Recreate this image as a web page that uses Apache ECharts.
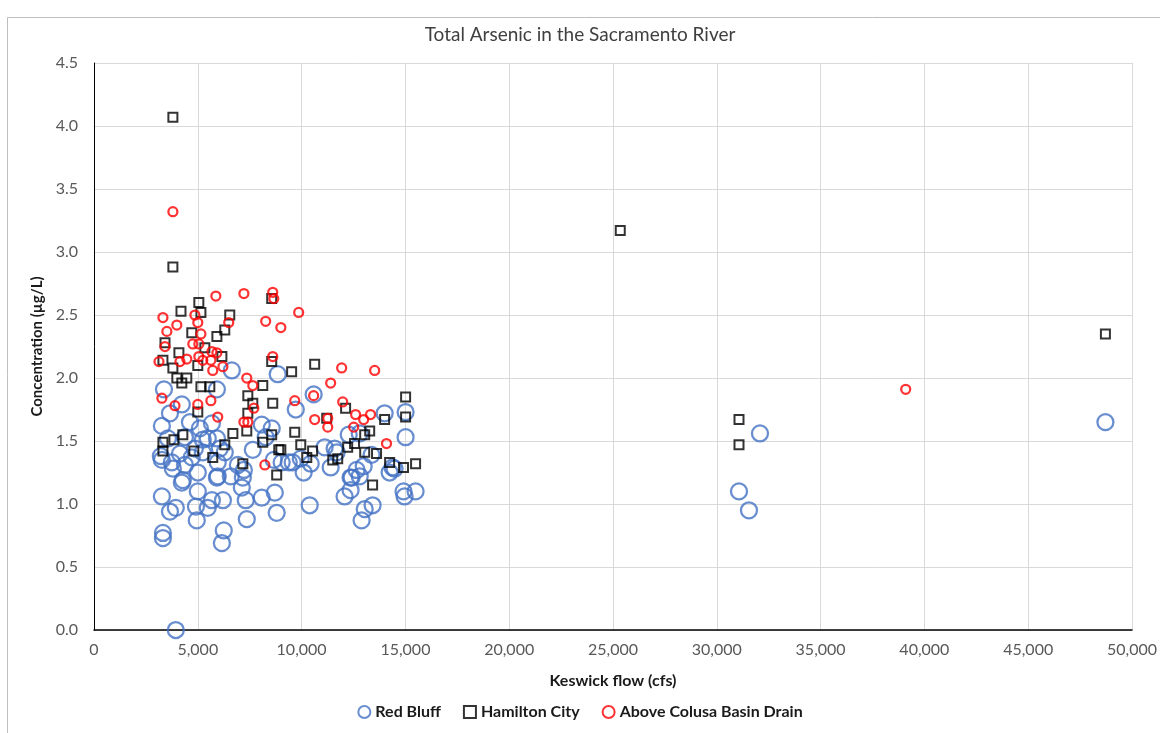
<!DOCTYPE html>
<html>
<head>
<meta charset="utf-8">
<script src="https://cdn.jsdelivr.net/npm/echarts@6/dist/echarts.min.js"></script>
<style>
html,body{margin:0;padding:0;background:#fff;}
#chart{width:1160px;height:733px;}
</style>
</head>
<body>
<div id="chart"></div>
<script>
const xTicks = { min: 0, max: 50000, interval: 5000 };
const yTicks = { min: 0, max: 4.5, interval: 0.5 };
const seriesNames = ["Red Bluff", "Hamilton City", "Above Colusa Basin Drain"];

const redBluffX = [3940,3320,3320,3660,3940,3270,3270,3220,3800,3750,
3270,3370,3660,4230,4140,4230,4280,4380,4620,3560,
4380,4710,4860,4910,4950,5000,5000,5100,5240,5240,
5480,5480,5680,5680,5920,5920,5960,5920,5960,6060,
6250,6160,6210,6300,6590,6640,6930,7170,7120,7310,
7360,7650,7220,8080,8080,8560,8270,8710,8800,8850,
8660,9040,9380,9720,9960,10100,10440,10580,10390,11110,
11400,11690,12070,12360,12360,12270,12650,12800,12990,13040,
12890,13420,13370,14000,14240,14380,14910,14960,15010,15010,
15490,12800,11590,9570,12410,14480,31070,31550,32080,48720];
const redBluffY = [0.00,0.73,0.77,0.94,0.97,1.06,1.35,1.38,1.28,1.33,
1.62,1.91,1.72,1.79,1.40,1.17,1.19,1.31,1.65,1.52,
1.53,1.37,1.44,0.98,0.87,1.10,1.25,1.60,1.51,1.41,
1.52,0.97,1.03,1.64,1.52,1.21,1.22,1.91,1.33,1.44,
0.79,0.69,1.03,1.41,1.22,2.06,1.31,1.21,1.13,1.03,
0.88,1.43,1.27,1.05,1.63,1.60,1.53,1.09,0.93,2.03,
1.35,1.33,1.33,1.75,1.36,1.25,1.32,1.87,0.99,1.45,
1.29,1.41,1.06,1.11,1.21,1.55,1.27,1.22,1.30,0.96,
0.87,0.99,1.39,1.72,1.25,1.29,1.10,1.06,1.73,1.53,
1.10,1.56,1.44,1.33,1.21,1.28,1.10,0.95,1.56,1.65];

const hamiltonX = [3800,3800,25350,31070,31070,48720,5050,4190,5150,6540,
6300,4710,5920,3420,5340,4090,3320,6160,5000,3800,
8560,8560,3990,4470,4230,5150,5580,8130,7410,7650,
8610,5000,7410,7360,6690,4280,3850,3320,3320,4810,
6300,8560,8130,8900,5720,7170,8800,10630,9520,15010,
12120,11210,15010,14000,9670,9960,9000,10530,10250,13040,
13280,12550,12220,13040,13610,11500,11740,14240,14910,15490,
13420];
const hamiltonY = [4.07,2.88,3.17,1.67,1.47,2.35,2.60,2.53,2.52,2.50,
2.38,2.36,2.33,2.28,2.24,2.20,2.14,2.17,2.10,2.08,
2.63,2.13,2.00,2.00,1.96,1.93,1.93,1.94,1.86,1.80,
1.80,1.73,1.72,1.58,1.56,1.55,1.51,1.49,1.42,1.42,
1.47,1.55,1.49,1.43,1.37,1.32,1.23,2.11,2.05,1.85,
1.76,1.68,1.69,1.67,1.57,1.47,1.43,1.42,1.37,1.55,
1.58,1.48,1.45,1.41,1.40,1.35,1.36,1.33,1.29,1.32,
1.15];

const colusaX = [3800,39100,5870,7220,8610,8660,3320,4860,3990,5000,
6490,8270,9000,9860,3510,5150,4760,5050,3420,5050,
5680,5920,4470,4140,3130,5240,5630,5720,6210,8610,
7360,7650,3270,3900,5000,5630,5960,7700,7220,7410,
8230,11930,13520,11400,9670,10580,11980,12600,13320,12990,
10630,11260,11260,12510,14090];
const colusaY = [3.32,1.91,2.65,2.67,2.68,2.63,2.48,2.50,2.42,2.44,
2.44,2.45,2.40,2.52,2.37,2.35,2.27,2.27,2.25,2.17,
2.21,2.20,2.15,2.13,2.13,2.14,2.14,2.06,2.09,2.17,
2.00,1.94,1.84,1.78,1.79,1.82,1.69,1.76,1.65,1.65,
1.31,2.08,2.06,1.96,1.82,1.86,1.81,1.71,1.71,1.67,
1.67,1.68,1.61,1.61,1.48];

function zip(xs, ys){ return xs.map((x,i)=>[x, ys[i]]); }

const FONT = 'Lato, "Liberation Sans", sans-serif';
const chart = echarts.init(document.getElementById('chart'), null, {renderer:'canvas'});
chart.setOption({
  animation: false,
  backgroundColor: '#fff',
  graphic: [{
    type: 'rect', silent: true, z: -10,
    shape: {x: 7.5, y: 17.5, width: 1200, height: 800},
    style: {fill: 'none', stroke: '#bfbfbf', lineWidth: 1}
  }],
  title: {
    text: 'Total Arsenic in the Sacramento River',
    left: 'center', top: 20,
    textStyle: {fontFamily: FONT, fontSize: 19, fontWeight: 'normal', color: '#404040'}
  },
  grid: {left: 94, right: 27, top: 63, bottom: 103, containLabel: false},
  legend: {
    bottom: 8, left: 'center',
    itemWidth: 12, itemHeight: 12, itemGap: 22,
    textStyle: {fontFamily: FONT, fontSize: 16, fontWeight: 'bold', color: '#1a1a1a'},
    data: seriesNames
  },
  xAxis: {
    type: 'value', min: xTicks.min, max: xTicks.max, interval: xTicks.interval,
    name: 'Keswick flow (cfs)', nameLocation: 'middle', nameGap: 43,
    nameTextStyle: {fontFamily: FONT, fontSize: 16, fontWeight: 'bold', color: '#1a1a1a'},
    axisLine: {show: true, lineStyle: {color: '#000', width: 1.5}},
    axisTick: {show: false},
    axisLabel: {fontFamily: FONT, fontSize: 16, color: '#595959', margin: 12,
      formatter: v => v.toLocaleString('en-US')},
    splitLine: {show: true, lineStyle: {color: '#d9d9d9', width: 1}}
  },
  yAxis: {
    type: 'value', min: yTicks.min, max: yTicks.max, interval: yTicks.interval,
    name: 'Concentration (µg/L)', nameLocation: 'middle', nameGap: 38, nameRotate: 90,
    nameTextStyle: {fontFamily: FONT, fontSize: 15, fontWeight: 'bold', color: '#1a1a1a'},
    axisLine: {show: true, lineStyle: {color: '#000', width: 1}},
    axisTick: {show: false},
    axisLabel: {fontFamily: FONT, fontSize: 16, color: '#595959', margin: 16,
      formatter: v => v.toFixed(1)},
    splitLine: {show: true, lineStyle: {color: '#d9d9d9', width: 1}}
  },
  series: [
    {
      name: seriesNames[0], type: 'scatter', symbol: 'circle', symbolSize: 16,
      itemStyle: {color: 'rgba(255,255,255,0)', borderColor: '#4472c4', borderWidth: 2.25},
      data: zip(redBluffX, redBluffY), z: 2
    },
    {
      name: seriesNames[1], type: 'scatter', symbol: 'rect', symbolSize: 9,
      itemStyle: {color: 'rgba(255,255,255,0)', borderColor: '#000', borderWidth: 2},
      data: zip(hamiltonX, hamiltonY), z: 3
    },
    {
      name: seriesNames[2], type: 'scatter', symbol: 'circle', symbolSize: 9,
      itemStyle: {color: 'rgba(255,255,255,0)', borderColor: '#ff0000', borderWidth: 2.25},
      data: zip(colusaX, colusaY), z: 4
    }
  ]
});
</script>
</body>
</html>
